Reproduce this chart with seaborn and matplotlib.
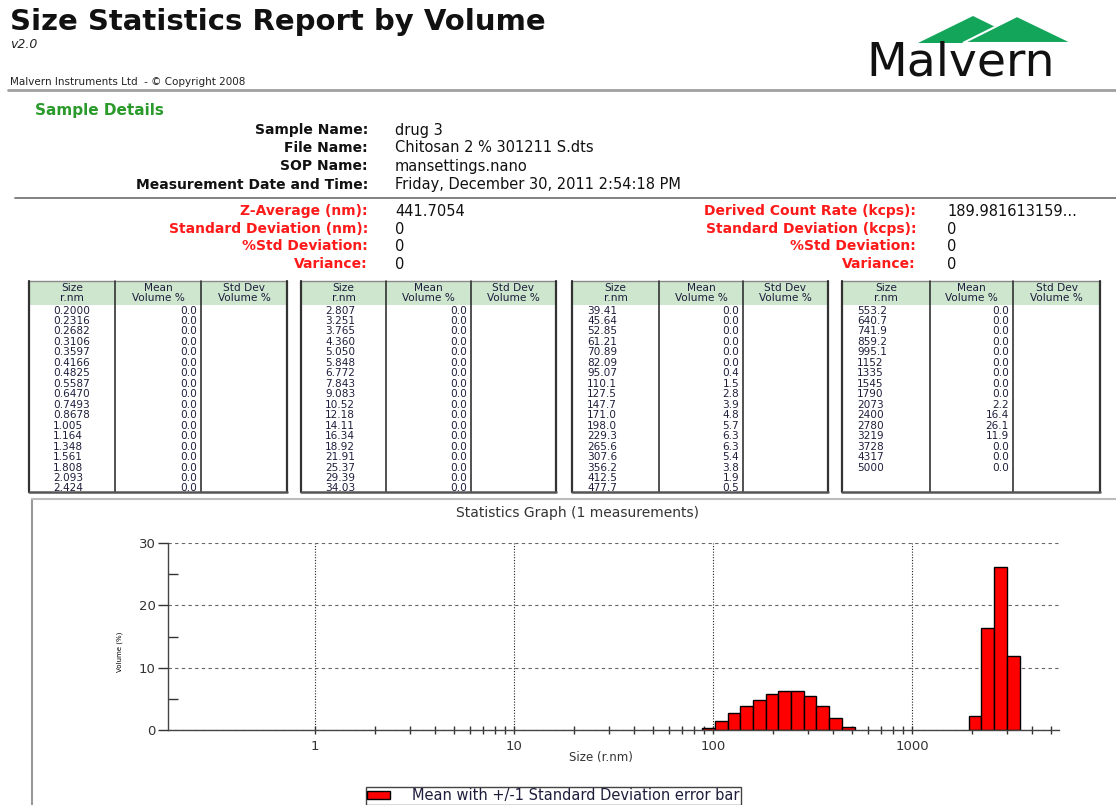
import numpy as np
import pandas as pd
import seaborn as sns
import matplotlib.pyplot as plt
from matplotlib.patches import Rectangle, Polygon, Patch
from matplotlib.ticker import FixedLocator, NullFormatter

W, H = 1116, 805

# Size bins (r.nm) and mean volume % as printed in the report tables
size_labels = [
    '0.2000', '0.2316', '0.2682', '0.3106', '0.3597', '0.4166', '0.4825', '0.5587', '0.6470',
    '0.7493', '0.8678', '1.005', '1.164', '1.348', '1.561', '1.808', '2.093', '2.424',
    '2.807', '3.251', '3.765', '4.360', '5.050', '5.848', '6.772', '7.843', '9.083',
    '10.52', '12.18', '14.11', '16.34', '18.92', '21.91', '25.37', '29.39', '34.03',
    '39.41', '45.64', '52.85', '61.21', '70.89', '82.09', '95.07', '110.1', '127.5',
    '147.7', '171.0', '198.0', '229.3', '265.6', '307.6', '356.2', '412.5', '477.7',
    '553.2', '640.7', '741.9', '859.2', '995.1', '1152', '1335', '1545', '1790',
    '2073', '2400', '2780', '3219', '3728', '4317', '5000',
]
mean_volume = [
    0.0, 0.0, 0.0, 0.0, 0.0, 0.0, 0.0, 0.0, 0.0, 0.0, 0.0, 0.0, 0.0, 0.0, 0.0, 0.0, 0.0, 0.0,
    0.0, 0.0, 0.0, 0.0, 0.0, 0.0, 0.0, 0.0, 0.0, 0.0, 0.0, 0.0, 0.0, 0.0, 0.0, 0.0, 0.0, 0.0,
    0.0, 0.0, 0.0, 0.0, 0.0, 0.0, 0.4, 1.5, 2.8, 3.9, 4.8, 5.7, 6.3, 6.3, 5.4, 3.8, 1.9, 0.5,
    0.0, 0.0, 0.0, 0.0, 0.0, 0.0, 0.0, 0.0, 0.0, 2.2, 16.4, 26.1, 11.9, 0.0, 0.0, 0.0,
]

sample_fields = ['Sample Name:', 'File Name:', 'SOP Name:', 'Measurement Date and Time:']
sample_values = ['drug 3', 'Chitosan 2 % 301211 S.dts', 'mansettings.nano',
                 'Friday, December 30, 2011 2:54:18 PM']
zavg_fields = ['Z-Average (nm):', 'Standard Deviation (nm):', '%Std Deviation:', 'Variance:']
zavg_values = ['441.7054', '0', '0', '0']
count_fields = ['Derived Count Rate (kcps):', 'Standard Deviation (kcps):', '%Std Deviation:', 'Variance:']
count_values = ['189.981613159...', '0', '0', '0']
table_headers = [('Size', 'r.nm'), ('Mean', 'Volume %'), ('Std Dev', 'Volume %')]

df = pd.DataFrame({'size': [float(s) for s in size_labels], 'volume': mean_volume, 'label': size_labels})

sns.set_style('ticks')
plt.rcParams['font.family'] = ['DejaVu Sans']

fig = plt.figure(figsize=(W / 100, H / 100), dpi=100)

# page layer in pixel coordinates
page = fig.add_axes([0, 0, 1, 1])
page.set_xlim(0, W)
page.set_ylim(H, 0)
page.axis('off')

ink = '#1e1e3c'
red = '#ff1a1a'

# report header
page.text(10, 30, 'Size Statistics Report by Volume', fontsize=21, fontweight='bold', va='baseline', color='#111')
page.text(10, 44, 'v2.0', fontsize=9, style='italic', va='center', color='#222')
page.text(10, 82, 'Malvern Instruments Ltd  - \u00a9 Copyright 2008', fontsize=7.5, va='center', color='#222')
page.plot([8, W], [90, 90], color='#a0a0a0', lw=2)

# logo
green = '#13a65a'
page.add_patch(Polygon([(918, 43), (973, 16), (1028, 43)], closed=True, facecolor=green, edgecolor='none'))
page.add_patch(Polygon([(963, 43), (1017, 16), (1073, 43)], closed=True, facecolor=green, edgecolor='white', lw=1.5))
page.text(866, 75, 'Malvern', fontsize=34, va='baseline', color='#111')

# sample details
page.text(35, 111, 'Sample Details', fontsize=11, fontweight='bold', color='#2a9a2a', va='center')
for i, (f, v) in enumerate(zip(sample_fields, sample_values)):
    y = [130, 148, 166, 185][i]
    page.text(368, y, f, fontsize=10, fontweight='bold', ha='right', va='center', color='#111')
    page.text(395, y, v, fontsize=10.5, ha='left', va='center', color='#111')
page.plot([15, W], [198, 198], color='#777', lw=1.3)

for i in range(4):
    y = [211, 229, 246, 264][i]
    page.text(368, y, zavg_fields[i], fontsize=10, fontweight='bold', ha='right', va='center', color=red)
    page.text(395, y, zavg_values[i], fontsize=10.5, ha='left', va='center', color='#111')
    page.text(916, y, count_fields[i], fontsize=10, fontweight='bold', ha='right', va='center', color=red)
    page.text(947, y, count_values[i], fontsize=10.5, ha='left', va='center', color='#111')

# size tables
table_x = [(29, 115, 201, 287), (301, 386, 471, 556), (572, 659, 743, 828), (842, 930, 1013, 1100)]
size_pad = [24, 24, 15, 15]
head_top, head_bot, body_bot = 281, 305, 492
row0, row_step = 310.5, 10.47
n_rows = 18
for t, xs in enumerate(table_x):
    chunk = df.iloc[t * n_rows:(t + 1) * n_rows]
    page.add_patch(Rectangle((xs[0], head_top), xs[3] - xs[0], head_bot - head_top,
                             facecolor='#cde6cd', edgecolor='none'))
    page.plot([xs[0], xs[3]], [head_top, head_top], color='#8a8a8a', lw=1)
    for k, x in enumerate(xs):
        page.plot([x, x], [head_top, body_bot], color='#333', lw=1.6 if k in (0, 3) else 1.2)
    page.plot([xs[0], xs[3]], [body_bot, body_bot], color='#555', lw=1.8)
    for c, (l1, l2) in enumerate(table_headers):
        cx = (xs[c] + xs[c + 1]) / 2
        page.text(cx, 287.5, l1, fontsize=7.6, ha='center', va='center', color=ink)
        page.text(cx, 298, l2, fontsize=7.6, ha='center', va='center', color=ink)
    for r, (lab, vol) in enumerate(zip(chunk['label'], chunk['volume'])):
        y = row0 + r * row_step
        page.text(xs[0] + size_pad[t], y, lab, fontsize=7.6, ha='left', va='center', color=ink)
        page.text(xs[2] - 4, y, f'{vol:.1f}', fontsize=7.6, ha='right', va='center', color=ink)

# graph panel frame
page.plot([32, 32], [499, H], color='#999', lw=1.5)
page.plot([32, W], [499, 499], color='#bbb', lw=1.5)
page.text(578, 513, 'Statistics Graph (1 measurements)', fontsize=10, ha='center', va='center', color='#333')

# statistics graph
ax = fig.add_axes([168 / W, 1 - 730 / H, (1059 - 168) / W, (730 - 543) / H])
s = df['size'].to_numpy()
mids = np.sqrt(s[:-1] * s[1:])
edges = [float(e) for e in np.concatenate([[s[0] ** 2 / mids[0]], mids, [s[-1] ** 2 / mids[-1]]])]
sns.histplot(x=df['size'], weights=df['volume'], bins=edges, color='red',
             edgecolor='black', linewidth=1, alpha=1, ax=ax)
for p in ax.patches:
    if p.get_height() <= 0:
        p.set_visible(False)

ax.set_xscale('log')
ax.set_xlim(0.183, 5470)
ax.set_ylim(0, 30)
ax.set_axisbelow(True)

ax.set_xticks([1, 10, 100, 1000])
ax.set_xticklabels(['1', '10', '100', '1000'])
minor = [m * 10 ** k for k in range(0, 4) for m in range(2, 10) if m * 10 ** k <= 5000]
ax.xaxis.set_minor_locator(FixedLocator(minor))
ax.xaxis.set_minor_formatter(NullFormatter())
ax.set_yticks([0, 10, 20, 30])
ax.set_yticks([5, 15, 25], minor=True)

ax.tick_params(axis='x', which='both', direction='inout', length=6, width=1, color='#333',
               labelsize=9.5, labelcolor='#333', pad=4)
ax.tick_params(axis='y', which='major', direction='out', length=7, width=1, color='#333',
               labelsize=9.5, labelcolor='#333', pad=2)
ax.tick_params(axis='y', which='minor', direction='in', length=7, width=1, color='#333')

ax.yaxis.grid(True, which='major', color='#666', linestyle=(0, (3, 3)), lw=0.8)
ax.xaxis.grid(True, which='major', color='#222', linestyle=(0, (1, 1.5)), lw=0.8)

sns.despine(ax=ax)
for side in ['left', 'bottom']:
    ax.spines[side].set_color('#444')
    ax.spines[side].set_linewidth(1)

ax.set_xlabel('Size (r.nm)', fontsize=8.5, color='#333')
ax.xaxis.set_label_coords(0.486, -0.112)
ax.set_ylabel('Volume (%)', fontsize=5, color='black')
ax.yaxis.set_label_coords(-0.05, 0.42)

handle = Patch(facecolor='red', edgecolor='black', lw=1,
               label='Mean with +/-1 Standard Deviation error bar')
leg = ax.legend(handles=[handle], loc='upper left', bbox_to_anchor=(366 / W, 1 - 787 / H),
                bbox_transform=fig.transFigure, frameon=True, fancybox=False, framealpha=1,
                edgecolor='#444', fontsize=10.5, handlelength=1.55, handleheight=0.5,
                handletextpad=1.5, borderpad=0.1, borderaxespad=0)
for txt in leg.get_texts():
    txt.set_color(ink)

fig.savefig('out.png', dpi=100)
